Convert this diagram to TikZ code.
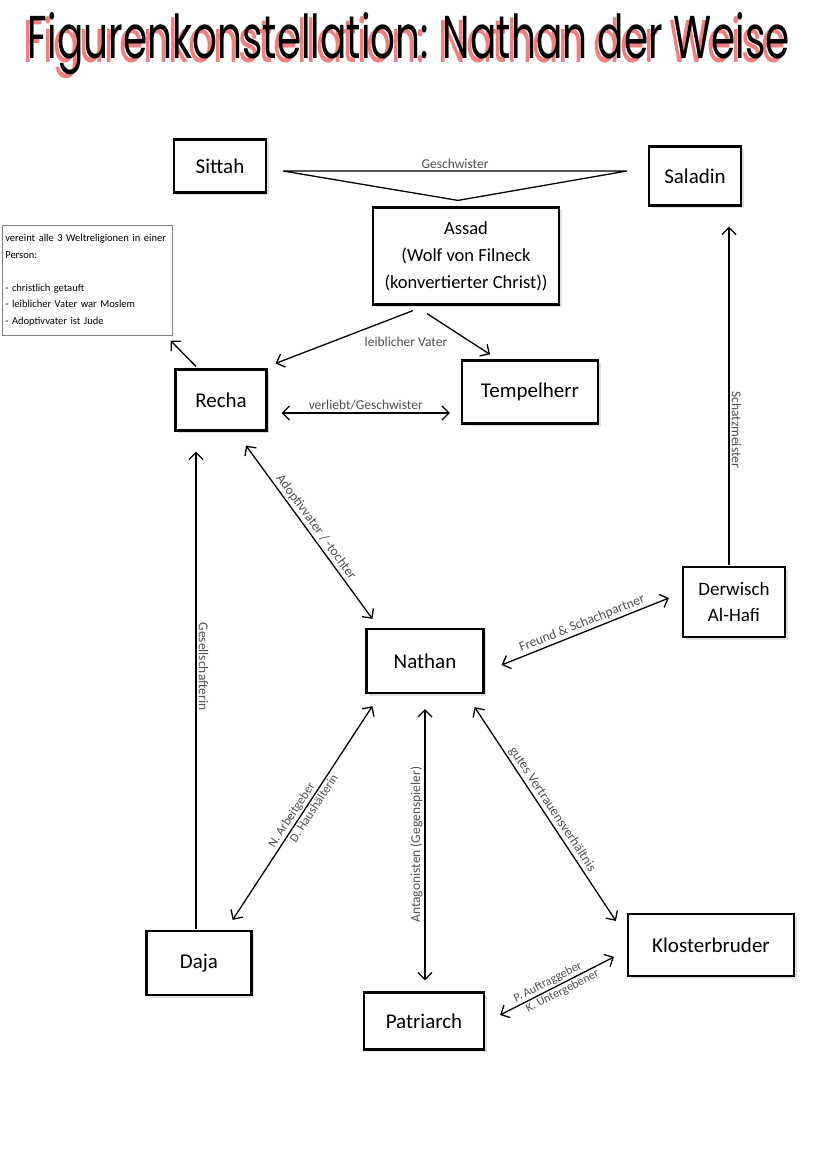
\documentclass[tikz,border=0pt]{standalone}
\usepackage{fontspec}
\setmainfont{Carlito}
\newfontfamily\titlefont{Poppins}
\usetikzlibrary{arrows.meta,shadows}
\definecolor{titlepink}{RGB}{240,128,128}
\definecolor{labelgray}{RGB}{80,80,80}
\newcommand\mytitletext{\resizebox{762pt}{46pt}{\titlefont Figurenkonstellation: Nathan der Weise}}
\tikzset{
  person/.style={draw=black, line width=2.2pt, fill=white, align=center,
    font=\fontsize{21}{26}\selectfont, inner sep=2pt,
    drop shadow={shadow xshift=2.5pt, shadow yshift=-2.5pt, opacity=0.25}},
  barb/.tip={Straight Barb[length=7pt,width=14pt,line width=1.3pt]},
  rel/.style={line width=1.3pt, black},
  relone/.style={rel, -barb},
  relboth/.style={rel, barb-barb},
  lab/.style={font=\fontsize{13.5}{16}\selectfont, text=labelgray, inner sep=2pt},
  smalllab/.style={font=\fontsize{12.5}{15}\selectfont, text=labelgray, inner sep=1.5pt},
}
\begin{document}
\begin{tikzpicture}[x=1pt,y=-1pt]
\useasboundingbox (0,0) rectangle (828,1171);
\fill[white] (0,0) rectangle (828,1171);

% title with pink shadow
\node[text=titlepink, inner sep=0pt] (tsh) at (405,48) {\mytitletext};
\node[text=black, inner sep=0pt] (title) at (409,44) {\mytitletext};

% persons
\node[person, minimum width=92pt, minimum height=53pt] (sittah) at (220,166) {Sittah};
\node[person, minimum width=92pt, minimum height=59pt] (saladin) at (695,176) {Saladin};
\node[person, minimum width=186pt, minimum height=97pt, font=\fontsize{18.5}{27}\selectfont] (assad) at (466,256) {Assad\\(Wolf von Filneck\\(konvertierter Christ))};
\node[person, minimum width=91pt, minimum height=61pt] (recha) at (221,400) {Recha};
\node[person, minimum width=136pt, minimum height=63pt] (tempel) at (530,392) {Tempelherr};
\node[person, minimum width=102pt, minimum height=70pt, font=\fontsize{19}{26}\selectfont] (derwisch) at (734,602) {Derwisch\\Al-Hafi};
\node[person, minimum width=117pt, minimum height=64pt] (nathan) at (425,661) {Nathan};
\node[person, minimum width=105pt, minimum height=64pt] (daja) at (199,963) {Daja};
\node[person, minimum width=166pt, minimum height=62pt] (kloster) at (711,945) {Klosterbruder};
\node[person, minimum width=120pt, minimum height=57pt] (patriarch) at (424,1021) {Patriarch};

% note box
\node[draw=gray, line width=0.6pt, anchor=north west, text width=164pt, align=left,
      minimum height=110pt, inner sep=3pt, font=\fontsize{10.5}{16.5}\selectfont] (note) at (2,225)
  {vereint alle 3 Weltreligionen in einer\\Person:\\[16.5pt]- christlich getauft\\- leiblicher Vater war Moslem\\- Adoptivvater ist Jude};

% Geschwister triangle
\coordinate (gl) at ([shift={(16,5)}]sittah.east);
\coordinate (gr) at ([shift={(-21,-5)}]saladin.west);
\coordinate (ga) at ([shift={(-8,-6)}]assad.north);
\draw[rel, line join=miter] (gl) -- node[lab, above, pos=0.5] {Geschwister} (gr) -- (ga) -- cycle;

% Assad -> children
\draw[relone] ([shift={(-53,5)}]assad.south) -- ([shift={(8,-5)}]recha.north east);
\draw[relone] ([shift={(-39,8)}]assad.south) -- ([shift={(-40,-5)}]tempel.north);
\node[lab] (lv) at (406,342) {leiblicher Vater};

% Recha -> note
\draw[relone] ([shift={(-25,-2)}]recha.north) -- ([shift={(-2,5)}]note.south east);

% Recha <-> Tempelherr
\draw[relboth] ([shift={(14,13)}]recha.east) -- node[lab, above] {verliebt/Geschwister} ([shift={(-11,21)}]tempel.west);

% Recha <-> Nathan
\draw[relboth] ([shift={(25,14)}]recha.south) -- node[lab, sloped, above] {Adoptivvater / -tochter} ([shift={(7,-9)}]nathan.north west);

% Nathan <-> Derwisch
\draw[relboth] ([shift={(17,4)}]nathan.east) -- node[lab, sloped, above] {Freund \& Schachpartner} ([shift={(-13,-4)}]derwisch.west);

% Derwisch -> Saladin
\draw[relone] ([shift={(-5,-1)}]derwisch.north) -- node[lab, rotate=-90, anchor=south, pos=0.4] {Schatzmeister} ([shift={(34,20)}]saladin.south);

% Daja -> Recha
\draw[relone] ([shift={(-3,-1)}]daja.north) -- node[lab, rotate=-90, anchor=south, pos=0.55] {Gesellschafterin} ([shift={(-25,20)}]recha.south);

% Daja <-> Nathan
\draw[relboth] ([shift={(-20,-10)}]daja.north east) --
  node[smalllab, sloped, above, pos=0.47] {N. Arbeitgeber}
  node[smalllab, sloped, below, pos=0.54] {D. Haushälterin}
  ([shift={(7,12)}]nathan.south west);

% Nathan <-> Patriarch
\draw[relboth] ([shift={(0,15)}]nathan.south) -- node[lab, rotate=90, anchor=south, pos=0.5] {Antagonisten (Gegenspieler)} ([shift={(1,-11)}]patriarch.north);

% Nathan <-> Klosterbruder
\draw[relboth] ([shift={(-10,13)}]nathan.south east) -- node[lab, sloped, above] {gutes Vertrauensverhältnis} ([shift={(-11,8)}]kloster.north west);

% Patriarch <-> Klosterbruder
\draw[relboth] ([shift={(15,-6)}]patriarch.east) --
  node[smalllab, sloped, above, pos=0.45, font=\fontsize{12}{14}\selectfont] {P. Auftraggeber}
  node[smalllab, sloped, below, pos=0.52, font=\fontsize{12}{14}\selectfont] {K. Untergebener}
  ([shift={(-13,12)}]kloster.west);
\end{tikzpicture}
\end{document}
